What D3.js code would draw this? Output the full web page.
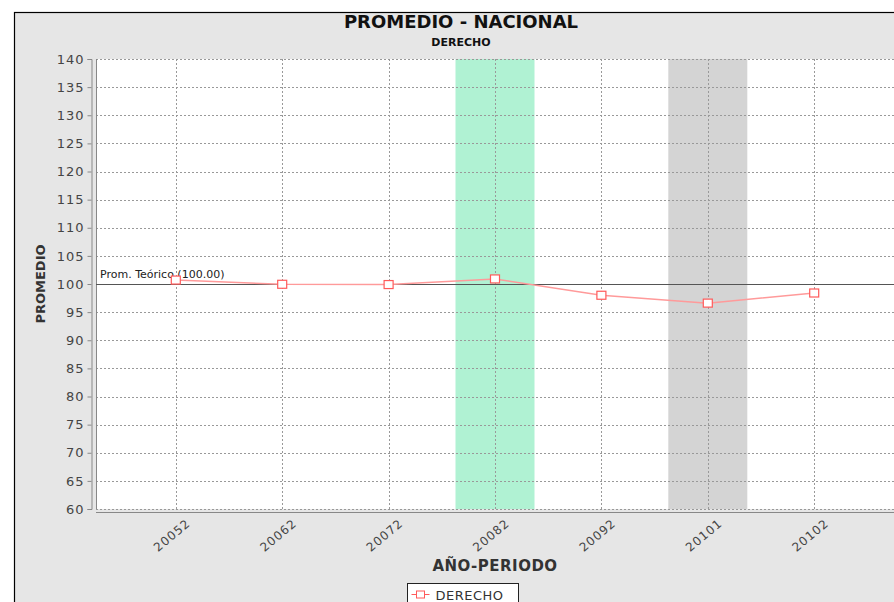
<!DOCTYPE html>
<html>
<head>
<meta charset="utf-8">
<script src="https://cdn.jsdelivr.net/npm/d3@7"></script>
<style>
  body { margin: 0; background: #fff; }
  svg { display: block; font-family: "DejaVu Sans", sans-serif; }
</style>
</head>
<body>
<div id="chart"></div>
<script>
// Data
const periods = ["20052", "20062", "20072", "20082", "20092", "20101", "20102"];
const promedio = [100.7, 99.95, 99.9, 100.9, 98.0, 96.6, 98.4];
const yTicks = [60, 65, 70, 75, 80, 85, 90, 95, 100, 105, 110, 115, 120, 125, 130, 135, 140];
const highlightGreen = ["20082"];
const highlightGray = ["20101"];
const teorico = 100;

const width = 894, height = 602;
const plot = { left: 96, top: 59, right: 894, bottom: 509 };

const svg = d3.select("#chart").append("svg")
    .attr("width", width)
    .attr("height", height);

// Chart background and outer border
svg.append("rect")
    .attr("x", 14.5).attr("y", 12.5)
    .attr("width", width).attr("height", height)
    .attr("fill", "#e6e6e6")
    .attr("stroke", "#000")
    .attr("stroke-width", 1.2);

// Titles
svg.append("text")
    .attr("x", 461).attr("y", 28)
    .attr("text-anchor", "middle")
    .attr("font-size", 18).attr("font-weight", "bold")
    .attr("fill", "#111")
    .text("PROMEDIO - NACIONAL");
svg.append("text")
    .attr("x", 461).attr("y", 46)
    .attr("text-anchor", "middle")
    .attr("font-size", 11).attr("font-weight", "bold")
    .attr("fill", "#111")
    .text("DERECHO");

// Scales
const x = d3.scalePoint()
    .domain(periods)
    .range([plot.left, plot.right])
    .padding(0.75);

const y = d3.scaleLinear()
    .domain([60, 140])
    .range([plot.bottom, plot.top]);

// Plot area
svg.append("rect")
    .attr("x", plot.left).attr("y", plot.top)
    .attr("width", plot.right - plot.left + 10)
    .attr("height", plot.bottom - plot.top)
    .attr("fill", "#fff");

// Highlight bands
const bandW = 79;
svg.selectAll("rect.green")
    .data(highlightGreen)
    .enter().append("rect")
    .attr("class", "green")
    .attr("x", d => x(d) - bandW / 2)
    .attr("y", plot.top)
    .attr("width", bandW)
    .attr("height", plot.bottom - plot.top)
    .attr("fill", "#b0f2d3");
svg.selectAll("rect.gray")
    .data(highlightGray)
    .enter().append("rect")
    .attr("class", "gray")
    .attr("x", d => x(d) - bandW / 2)
    .attr("y", plot.top)
    .attr("width", bandW)
    .attr("height", plot.bottom - plot.top)
    .attr("fill", "#d4d4d4");

// Grid lines
svg.append("g")
    .selectAll("line")
    .data(yTicks)
    .enter().append("line")
    .attr("x1", plot.left).attr("x2", plot.right + 10)
    .attr("y1", d => Math.round(y(d)) + 0.5)
    .attr("y2", d => Math.round(y(d)) + 0.5)
    .attr("stroke", "#999")
    .attr("stroke-dasharray", "2,2");

svg.append("g")
    .selectAll("line")
    .data(periods)
    .enter().append("line")
    .attr("x1", d => Math.round(x(d)) + 0.5)
    .attr("x2", d => Math.round(x(d)) + 0.5)
    .attr("y1", plot.top).attr("y2", plot.bottom)
    .attr("stroke", "#999")
    .attr("stroke-dasharray", "2,2");

// Plot left border
svg.append("line")
    .attr("x1", plot.left + 0.5).attr("x2", plot.left + 0.5)
    .attr("y1", plot.top).attr("y2", plot.bottom)
    .attr("stroke", "#888");

// Reference line (theoretical average)
svg.append("line")
    .attr("x1", plot.left).attr("x2", plot.right + 10)
    .attr("y1", Math.round(y(teorico)) + 0.5)
    .attr("y2", Math.round(y(teorico)) + 0.5)
    .attr("stroke", "#555")
    .attr("stroke-width", 1);
svg.append("text")
    .attr("x", plot.left + 4)
    .attr("y", y(teorico) - 6)
    .attr("font-size", 11)
    .attr("fill", "#222")
    .text("Prom. Teórico (100.00)");

// Y axis
const yAxis = svg.append("g")
    .attr("transform", `translate(${plot.left - 4.5},0)`)
    .call(d3.axisLeft(y).tickValues(yTicks).tickSize(4).tickPadding(3));
yAxis.select(".domain").attr("stroke", "#888");
yAxis.selectAll(".tick line").attr("stroke", "#888");
yAxis.selectAll(".tick text")
    .attr("font-size", 13)
    .attr("font-family", "DejaVu Sans, sans-serif")
    .attr("fill", "#444")
    .attr("letter-spacing", 1);

// X axis
const xAxis = svg.append("g")
    .attr("transform", `translate(0,${plot.bottom + 3.5})`)
    .call(d3.axisBottom(x).tickSize(0).tickPadding(8));
xAxis.select(".domain")
    .attr("d", `M${plot.left},0H${plot.right + 10}`)
    .attr("stroke", "#888");
xAxis.selectAll(".tick text")
    .attr("font-size", 12)
    .attr("font-family", "DejaVu Sans, sans-serif")
    .attr("fill", "#444")
    .attr("letter-spacing", 1)
    .attr("text-anchor", "end")
    .attr("dx", "0.3em")
    .attr("dy", "0.9em")
    .attr("transform", "rotate(-40)");

// Axis labels
svg.append("text")
    .attr("transform", `translate(45,${y(100)}) rotate(-90)`)
    .attr("text-anchor", "middle")
    .attr("font-size", 13).attr("font-weight", "bold")
    .attr("fill", "#333")
    .text("PROMEDIO");
svg.append("text")
    .attr("x", 495).attr("y", 571)
    .attr("text-anchor", "middle")
    .attr("font-size", 15).attr("font-weight", "bold")
    .attr("fill", "#333")
    .attr("letter-spacing", 0.5)
    .text("AÑO-PERIODO");

// Series line and markers
const line = d3.line()
    .x((d, i) => x(periods[i]))
    .y(d => y(d));

svg.append("path")
    .datum(promedio)
    .attr("d", line)
    .attr("fill", "none")
    .attr("stroke", "#ff9a9a")
    .attr("stroke-width", 1.5);

svg.selectAll("rect.marker")
    .data(promedio)
    .enter().append("rect")
    .attr("class", "marker")
    .attr("x", (d, i) => x(periods[i]) - 4.5)
    .attr("y", d => y(d) - 4)
    .attr("width", 9)
    .attr("height", 8)
    .attr("fill", "#fff")
    .attr("stroke", "#ff5a5a")
    .attr("stroke-width", 1.2);

// Legend
const legend = svg.append("g").attr("transform", "translate(407.5,583.5)");
legend.append("rect")
    .attr("width", 111).attr("height", 24)
    .attr("fill", "#fff")
    .attr("stroke", "#222");
legend.append("line")
    .attr("x1", 4).attr("x2", 22)
    .attr("y1", 11).attr("y2", 11)
    .attr("stroke", "#ff5a5a");
legend.append("rect")
    .attr("x", 9).attr("y", 7.5)
    .attr("width", 8).attr("height", 7)
    .attr("fill", "#fff")
    .attr("stroke", "#ff5a5a");
legend.append("text")
    .attr("x", 28).attr("y", 16)
    .attr("font-size", 13)
    .attr("fill", "#333")
    .attr("letter-spacing", 0.5)
    .text("DERECHO");
</script>
</body>
</html>
